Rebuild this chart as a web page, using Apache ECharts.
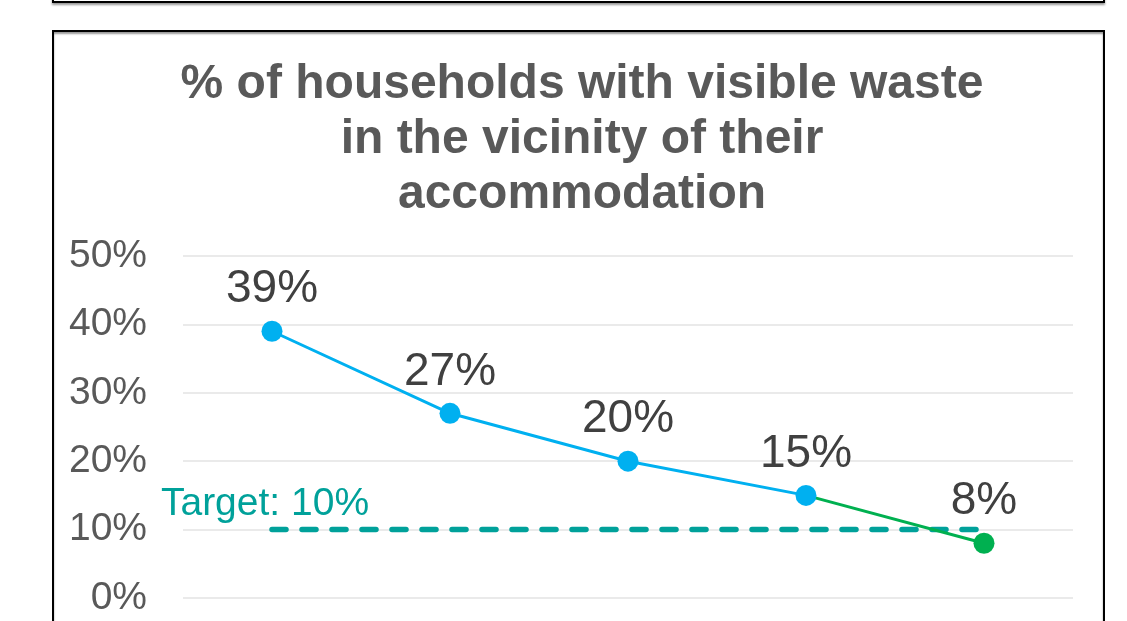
<!DOCTYPE html>
<html><head><meta charset="utf-8">
<script src="https://cdn.jsdelivr.net/npm/echarts@6/dist/echarts.min.js"></script>
<style>
html,body{margin:0;padding:0;background:#fff;overflow:hidden;}
#prev{position:absolute;left:52px;top:-100px;width:1049px;height:99px;border:2px solid #000;box-shadow:0 2px 2px #999;}
#box{position:absolute;left:52px;top:30px;width:1049px;height:700px;border:2px solid #000;box-shadow:inset 0 2px 2px #999;}
#chart{position:absolute;left:0;top:0;width:1127px;height:621px;}
</style></head>
<body>
<div id="prev"></div><div id="box"></div>
<div id="chart"></div>
<script>
const titleLines = ['% of households with visible waste','in the vicinity of their','accommodation'];
const categories = ['P1','P2','P3','P4','P5'];
const actualValues = [39, 27, 20, 15, null];
const projectedValues = [null, null, null, 15, 8];
const targetValue = 10;
const targetLabel = 'Target: 10%';
const yTicks = [0, 10, 20, 30, 40, 50];

const chart = echarts.init(document.getElementById('chart'), null, {renderer:'canvas'});
const fontFamily = 'Liberation Sans, Arial, sans-serif';
const labelStyle = {show:true, position:'top', distance:8, fontSize:46, color:'#404040', fontFamily, formatter:p=>p.value+'%'};

chart.setOption({
  animation:false,
  title:{text:titleLines.join('\n'), left:577, textAlign:'center', top:52,
    textStyle:{fontSize:48, fontWeight:'bold', color:'#595959', fontFamily, lineHeight:55}},
  grid:{left:183, right:54, top:256, bottom:23},
  xAxis:{type:'category', data:categories, boundaryGap:true,
    axisLine:{show:false}, axisTick:{show:false}, axisLabel:{show:false}},
  yAxis:{type:'value', min:yTicks[0], max:yTicks[yTicks.length-1], interval:10,
    axisLine:{show:false}, axisTick:{show:false},
    axisLabel:{formatter:v=>v+'%', fontSize:39, color:'#595959', fontFamily, margin:36},
    splitLine:{lineStyle:{color:'#e3e3e3', width:1.5}}},
  series:[
    {type:'line', data:categories.map((c,i)=>i===0?{value:targetValue,label:{show:true,formatter:targetLabel,position:'top',distance:5,offset:[-7,0],fontSize:39,color:'#00A19A',fontFamily}}:targetValue),
      symbol:'circle', symbolSize:1, showSymbol:true, z:1,
      itemStyle:{color:'rgba(0,0,0,0)'},
      lineStyle:{color:'#00A19A', width:5.5, type:[14,16], cap:'round'}},
    {type:'line', data:projectedValues.map((v,i)=>i===3?{value:v,symbol:'none',label:{show:false}}:v),
      symbol:'circle', symbolSize:21, z:2,
      itemStyle:{color:'#00B050'}, lineStyle:{color:'#00B050', width:3},
      label:labelStyle},
    {type:'line', data:actualValues, symbol:'circle', symbolSize:21, z:3,
      itemStyle:{color:'#00B0F0'}, lineStyle:{color:'#00B0F0', width:3},
      label:labelStyle}
  ]
});
</script>
</body></html>
